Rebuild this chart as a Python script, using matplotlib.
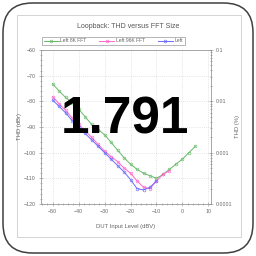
import matplotlib
matplotlib.use("Agg")
import matplotlib.pyplot as plt
from matplotlib.patches import FancyBboxPatch, Rectangle
from matplotlib.ticker import MultipleLocator, LogLocator, NullFormatter, FixedLocator, FixedFormatter

plt.rcParams['font.family'] = ['Liberation Sans', 'DejaVu Sans']

# Data
x_green = [-50, -47.5, -45, -42.5, -40, -37.5, -35, -32.5, -30, -27.5, -25, -22.5,
           -20, -17.5, -15, -12.5, -10, -7.5, -5, -2.5, 0, 2.5, 5]
y_green = [-73.2, -76, -78.5, -80.5, -83, -86, -89, -91, -93, -96, -99, -102,
           -104.5, -106.5, -108, -109, -110, -108.5, -106.5, -104.5, -102.5, -100, -97.5]

x_pink = [-50, -47.5, -45, -42.5, -40, -37.5, -35, -32.5, -30, -27.5, -25, -22.5,
          -20, -17.5, -15, -12.5, -10, -7.5, -5]
y_pink = [-78.2, -81, -83.5, -86.5, -89, -91.5, -94, -96.8, -99.4, -101.5, -103.5, -106,
          -108, -111, -113.5, -114, -111, -108.5, -107]

x_blue = [-50, -47.5, -45, -42.5, -40, -37.5, -35, -32.5, -30, -27.5, -25, -22.5,
          -20, -17.5, -15, -12.5, -10]
y_blue = [-79.5, -82, -84.5, -87.5, -90, -92.5, -95, -97.5, -100, -102.5, -105, -107.5,
          -110.5, -114, -114.5, -113.5, -111]

labels = ["Left 8K FFT", "Left 96K FFT", "Left"]
colors = ["#66bb66", "#ff66cc", "#6a6aff"]

x_ticks = [-50, -40, -30, -20, -10, 0, 10]
y_ticks = [-60, -70, -80, -90, -100, -110, -120]
r_ticks = [0.1, 0.01, 0.001, 0.0001]
r_labels = ["0.1", "0.01", "0.001", "0.0001"]

W = H = 256
fig = plt.figure(figsize=(2.56, 2.56), dpi=100)
fig.patch.set_facecolor("white")

# outer rounded frame
frame = FancyBboxPatch((3/W, 3/H), 250/W, 250/H,
                       boxstyle="round,pad=0,rounding_size=0.115",
                       transform=fig.transFigure, facecolor="white",
                       edgecolor="#404040", linewidth=1.1, zorder=-3)
fig.patches.append(frame)
# inner panel
panel = Rectangle((17/W, 1-237/H), 224/W, 222/H, transform=fig.transFigure,
                  facecolor="white", edgecolor="#cccccc", linewidth=0.6, zorder=-2)
fig.patches.append(panel)

ax = fig.add_axes([41/W, 1-204/H, 170/W, 154/H])
ax.set_facecolor("white")
tc = "#666666"
for xs, ys, c, lab in zip([x_green, x_pink, x_blue], [y_green, y_pink, y_blue], colors, labels):
    ax.plot(xs, ys, color=c, lw=0.7, marker="o", ms=2.0, mfc="none", mec=c, mew=0.45, label=lab)

ax.set_xlim(-54.5, 11)
ax.set_ylim(-120, -60)
ax.set_xticks(x_ticks)
ax.set_yticks(y_ticks)
ax.xaxis.set_minor_locator(MultipleLocator(2))
ax.yaxis.set_minor_locator(MultipleLocator(2))
ax.grid(True, which="major", color="#cccccc", linestyle=(0, (1, 2)), linewidth=0.5)
ax.tick_params(which="both", direction="inout", labelsize=3.8, colors="#888888", labelcolor=tc,
               length=2.5, width=0.4, pad=2.5)
ax.tick_params(which="minor", length=1.5)
for s in ax.spines.values():
    s.set_color("#999999")
    s.set_linewidth(0.6)
ax.set_xlabel("DUT Input Level (dBV)", fontsize=4.2, color=tc, labelpad=7)
ax.set_ylabel("THD (dBr)", fontsize=4.2, color=tc, labelpad=1)

ax2 = ax.twinx()
ax2.set_yscale("log")
ax2.set_ylim(0.0001, 0.1)
ax2.yaxis.set_major_locator(FixedLocator(r_ticks))
ax2.yaxis.set_major_formatter(FixedFormatter(r_labels))
ax2.yaxis.set_minor_locator(LogLocator(base=10, subs=range(2, 10)))
ax2.yaxis.set_minor_formatter(NullFormatter())
ax2.tick_params(which="both", direction="inout", labelsize=3.8, colors="#888888", labelcolor=tc,
                length=2.5, width=0.4, pad=2.5)
ax2.tick_params(which="minor", length=1.5)
for s in ax2.spines.values():
    s.set_visible(False)
ax2.set_ylabel("THD (%)", fontsize=4.2, color=tc, labelpad=2)

fig.text(128/W, 1-27/H, "Loopback: THD versus FFT Size", ha="center", va="center",
         fontsize=5, color="#555555")

leg = fig.legend(*ax.get_legend_handles_labels(), loc="center left",
                 bbox_to_anchor=(42/W, 1-41/H), ncol=3, fontsize=3.6, frameon=True,
                 fancybox=False, edgecolor="#999999", framealpha=1, borderpad=0.3,
                 handlelength=3, columnspacing=2.5, handletextpad=0.4, borderaxespad=0)
leg.get_frame().set_linewidth(0.5)
for t in leg.get_texts():
    t.set_color(tc)

fig.text(124.5/W, 1-134/H, "1.791", ha="center", va="baseline", fontsize=37,
         fontweight="bold", color="black", zorder=10)

fig.savefig("out.png", dpi=100)
